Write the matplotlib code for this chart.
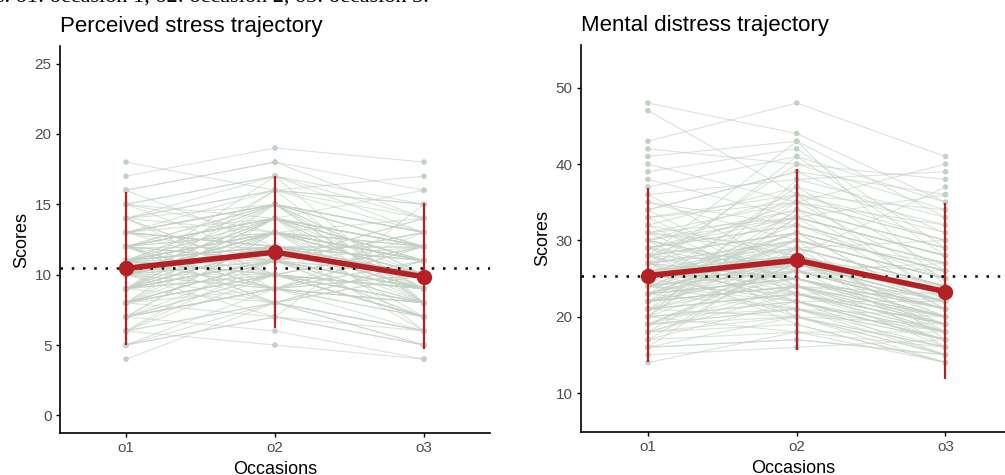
import matplotlib
matplotlib.use("Agg")
import matplotlib.pyplot as plt
import numpy as np

# occasions
occasions = ['o1', 'o2', 'o3']

# perceived stress, individual scores per occasion
ps_o1 = [18, 17, 16, 15, 15, 14, 14, 14, 13, 13,
         13, 13, 12, 12, 12, 12, 12, 11, 11, 11,
         11, 11, 11, 10, 10, 10, 10, 10, 10, 10,
         9, 9, 9, 9, 9, 9, 8, 8, 8, 8,
         8, 7, 7, 7, 7, 6, 6, 6, 5, 5,
         4, 12, 10, 9, 11, 13, 8, 10, 14, 7,
         11, 9, 12, 10, 6, 15, 8, 11, 13, 9,
         10, 12, 7, 11, 9, 14, 10, 8, 12, 16,
         5, 10, 13, 9, 11, 7, 12, 10, 8, 11,
         11, 13, 9, 10, 12, 8, 14, 10, 11, 9,
         12, 7, 13, 10, 11, 15, 9, 8, 12, 10,
         6, 11, 13, 9, 10, 12, 14, 8, 11, 10,
         9, 12, 7, 10, 13, 11, 8, 15, 10, 12,
         11, 9, 14, 6, 10, 12, 8, 13, 11, 9,
         10, 16, 7, 12, 9, 11, 13, 10, 5, 12]
ps_o2 = [16, 19, 18, 17, 14, 15, 13, 17, 15, 12,
         14, 16, 13, 11, 15, 12, 10, 14, 12, 13,
         9, 11, 15, 12, 10, 13, 11, 8, 14, 9,
         12, 10, 13, 11, 8, 14, 10, 9, 12, 7,
         11, 9, 13, 6, 10, 8, 12, 5, 9, 7,
         8, 14, 12, 10, 13, 15, 11, 12, 16, 9,
         12, 11, 14, 13, 8, 17, 10, 12, 15, 11,
         13, 14, 9, 10, 12, 16, 11, 10, 13, 18,
         7, 12, 15, 11, 13, 9, 14, 12, 10, 13,
         13, 12, 14, 9, 15, 11, 10, 13, 9, 12,
         14, 10, 11, 16, 8, 13, 12, 11, 9, 14,
         10, 15, 12, 13, 7, 11, 9, 14, 12, 17,
         11, 8, 13, 12, 10, 14, 15, 11, 13, 9,
         12, 16, 10, 11, 14, 8, 13, 12, 10, 15,
         13, 12, 11, 9, 14, 10, 12, 15, 8, 11]
ps_o3 = [17, 18, 14, 13, 16, 12, 11, 15, 12, 10,
         11, 14, 10, 9, 13, 12, 8, 11, 10, 12,
         7, 9, 13, 11, 8, 10, 9, 6, 12, 8,
         10, 9, 11, 7, 5, 12, 8, 10, 9, 6,
         9, 8, 11, 4, 7, 6, 10, 4, 8, 5,
         6, 11, 10, 9, 12, 13, 9, 10, 15, 7,
         10, 8, 12, 11, 5, 14, 9, 10, 13, 8,
         11, 12, 8, 9, 10, 15, 9, 7, 11, 16,
         5, 9, 12, 10, 11, 6, 12, 9, 7, 10,
         10, 12, 8, 11, 9, 13, 7, 10, 12, 6,
         11, 9, 14, 8, 10, 12, 11, 7, 13, 9,
         12, 10, 8, 11, 15, 9, 12, 6, 10, 8,
         13, 10, 9, 11, 7, 12, 8, 10, 14, 11,
         9, 13, 8, 12, 10, 11, 7, 9, 12, 10,
         8, 11, 14, 10, 9, 12, 10, 8, 11, 13]

# perceived stress summary (mean and bar ends)
ps_mean = [10.45, 11.6, 9.85]
ps_low = [5.0, 6.2, 4.7]
ps_high = [15.9, 17.0, 15.1]

# mental distress, individual scores per occasion
md_o1 = [48, 47, 43, 42, 41, 40, 39, 38, 37, 36,
         35, 34, 33, 32, 32, 31, 31, 30, 30, 29,
         29, 28, 28, 28, 27, 27, 27, 26, 26, 26,
         25, 25, 25, 25, 24, 24, 24, 23, 23, 23,
         22, 22, 22, 21, 21, 21, 20, 20, 20, 19,
         19, 19, 18, 18, 17, 17, 16, 16, 15, 14,
         26, 24, 30, 22, 28, 20, 33, 25, 23, 27,
         21, 29, 18, 24, 31, 26, 19, 22, 25, 34,
         20, 27, 23, 16, 28, 21, 25, 30, 22, 24,
         26, 23, 29, 21, 32, 25, 19, 27, 24, 30,
         22, 28, 18, 26, 35, 23, 20, 31, 25, 27,
         17, 24, 29, 22, 26, 33, 21, 28, 24, 19,
         30, 25, 23, 27, 20, 36, 22, 26, 29, 24,
         18, 28, 25, 31, 21, 23, 27, 16, 26, 30,
         24, 22, 34, 20, 28, 25, 19, 27, 23, 29]
md_o2 = [44, 36, 48, 40, 43, 35, 42, 33, 41, 38,
         30, 39, 35, 28, 37, 33, 29, 36, 26, 32,
         34, 27, 31, 43, 29, 25, 33, 30, 27, 24,
         31, 26, 28, 22, 29, 27, 23, 30, 25, 21,
         26, 24, 28, 20, 25, 23, 22, 27, 18, 24,
         21, 20, 23, 19, 18, 22, 17, 20, 16, 18,
         29, 27, 34, 24, 31, 21, 36, 28, 25, 30,
         23, 32, 20, 26, 35, 28, 21, 24, 27, 39,
         22, 30, 25, 17, 31, 23, 27, 33, 24, 26,
         28, 30, 25, 33, 23, 36, 27, 22, 31, 26,
         34, 24, 29, 20, 32, 27, 38, 23, 30, 25,
         28, 21, 33, 26, 41, 24, 29, 35, 22, 27,
         25, 31, 28, 19, 34, 26, 30, 23, 27, 37,
         24, 21, 32, 28, 26, 35, 22, 29, 25, 20,
         31, 27, 24, 33, 23, 29, 26, 40, 28, 22]
md_o3 = [35, 30, 41, 38, 33, 40, 29, 36, 28, 39,
         27, 31, 25, 37, 26, 28, 24, 22, 27, 25,
         23, 26, 21, 24, 30, 20, 22, 25, 19, 23,
         21, 24, 20, 22, 18, 21, 23, 17, 19, 20,
         18, 22, 16, 19, 21, 17, 15, 20, 18, 16,
         17, 15, 19, 14, 16, 18, 15, 14, 17, 14,
         24, 22, 29, 20, 26, 18, 34, 23, 21, 25,
         19, 27, 16, 22, 32, 24, 17, 20, 23, 36,
         18, 25, 21, 15, 26, 19, 23, 28, 20, 22,
         22, 25, 19, 28, 20, 31, 23, 17, 26, 21,
         29, 18, 24, 16, 27, 22, 33, 19, 25, 20,
         23, 15, 28, 21, 35, 18, 24, 30, 17, 22,
         20, 26, 23, 14, 29, 21, 25, 18, 22, 32,
         19, 16, 27, 23, 21, 30, 17, 24, 20, 15,
         26, 22, 19, 28, 18, 24, 21, 34, 23, 17]

md_mean = [25.4, 27.4, 23.3]
md_low = [14.1, 15.6, 11.8]
md_high = [36.9, 39.3, 34.9]

grey = '#c3d1c3'
red = '#b52025'
tick_grey = '#4d4d4d'
plt.rcParams['font.family'] = ['Liberation Sans', 'DejaVu Sans']

fig = plt.figure(figsize=(10.05, 4.75), dpi=100)
ax1 = fig.add_axes([60 / 1005, 42 / 475, 430 / 1005, 387 / 475])
ax2 = fig.add_axes([581 / 1005, 43 / 475, 424 / 1005, 387 / 475])


def draw_panel(ax, o1, o2, o3, mean, low, high, title, ylim, yticks, xlim):
    x = np.arange(1, 4)
    data = np.array([o1, o2, o3])
    for i in range(data.shape[1]):
        ax.plot(x, data[:, i], color=grey, lw=0.8, alpha=0.6, zorder=1)
    for j in range(3):
        ax.scatter(np.full(data.shape[1], x[j]), data[j], s=16, color=grey,
                   edgecolor='none', zorder=2)
    ax.axhline(mean[0], color='black', lw=1.8, linestyle=(0, (1, 3.5)), zorder=3)
    ax.vlines(x, low, high, color=red, lw=1.6, zorder=4)
    ax.plot(x, mean, color=red, lw=4, marker='o', markersize=10, zorder=5)
    ax.set_xlim(*xlim)
    ax.set_ylim(*ylim)
    ax.set_xticks(x)
    ax.set_xticklabels(occasions)
    ax.set_yticks(yticks)
    ax.spines['top'].set_visible(False)
    ax.spines['right'].set_visible(False)
    for s in ['left', 'bottom']:
        ax.spines[s].set_linewidth(1.2)
    ax.tick_params(axis='both', length=3, width=1, colors='black',
                   labelcolor=tick_grey, labelsize=11, pad=3)
    ax.set_xlabel('Occasions', fontsize=13, labelpad=4)
    ax.set_ylabel('Scores', fontsize=13, labelpad=3)
    ax.set_title(title, loc='left', fontsize=16, pad=10)


draw_panel(ax1, ps_o1, ps_o2, ps_o3, ps_mean, ps_low, ps_high,
           'Perceived stress trajectory', (-1.25, 26.25), [0, 5, 10, 15, 20, 25],
           (0.557, 3.443))
draw_panel(ax2, md_o1, md_o2, md_o3, md_mean, md_low, md_high,
           'Mental distress trajectory', (4.9, 55.6), [10, 20, 30, 40, 50],
           (0.55, 3.4))

# caption line cut off at the top of the image
fig.text(-0.004, 1 - 2 / 475, 's. o1: occasion 1, o2: occasion 2, o3: occasion 3.',
         fontsize=16, family='Liberation Serif', va='baseline', ha='left')

fig.savefig('out.png', dpi=100)
